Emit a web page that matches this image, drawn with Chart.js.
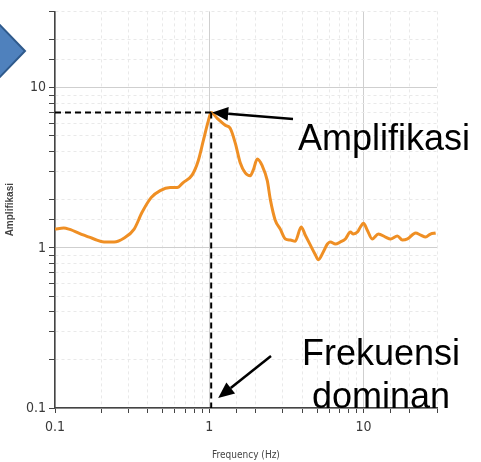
<!DOCTYPE html>
<html>
<head>
<meta charset="utf-8">
<script src="https://cdn.jsdelivr.net/npm/chart.js@4/dist/chart.umd.min.js"></script>
<style>
  html, body { margin: 0; padding: 0; background: #ffffff; }
  #c { display: block; }
</style>
</head>
<body>
<canvas id="c" width="481" height="462"></canvas>
<script>
// H/V spectral ratio curve: frequency (Hz) vs amplification
const frequency = [
  0.1, 0.114, 0.123, 0.154, 0.179, 0.208, 0.242, 0.281, 0.326, 0.367,
  0.42, 0.481, 0.558, 0.62, 0.678, 0.776, 0.848, 0.914, 0.985, 1.03,
  1.127, 1.27, 1.368, 1.476, 1.589, 1.713, 1.846, 1.932, 2.05, 2.21,
  2.38, 2.49, 2.68, 2.89, 3.12, 3.36, 3.61, 3.95, 4.2, 4.53,
  4.88, 5.1, 5.5, 5.84, 6.11, 6.58, 7.09, 7.64, 8.23, 8.61,
  9.14, 9.56, 10.0, 10.6, 11.4, 12.5, 13.9, 15.0, 16.6, 17.9,
  19.3, 21.8, 23.5, 25.3, 27.2, 29.4
];
const amplification = [
  1.31, 1.33, 1.31, 1.2, 1.137, 1.089, 1.089, 1.153, 1.31, 1.668,
  2.06, 2.28, 2.38, 2.38, 2.56, 2.86, 3.49, 4.64, 6.17, 7.0,
  6.44, 5.83, 5.58, 4.51, 3.4, 2.94, 2.82, 3.07, 3.59, 3.25,
  2.63, 2.01, 1.49, 1.31, 1.137, 1.12, 1.1, 1.35, 1.2, 1.04,
  0.905, 0.843, 0.945, 1.058, 1.089, 1.058, 1.089, 1.137, 1.255, 1.22,
  1.255, 1.35, 1.427, 1.29, 1.137, 1.22, 1.169, 1.137, 1.186, 1.12,
  1.137, 1.238, 1.203, 1.169, 1.22, 1.238
];
// dominant frequency and its amplification (peak of the curve)
const peakFrequency = 1.03;
const peakAmplification = 7.0;

const axisMin = 0.1;
const axisMax = 30;
const decadeLabels = ['0.1', '1', '10'];

const narrow = "'Liberation Sans Narrow', 'Arial Narrow', 'DejaVu Sans Condensed', 'Liberation Sans', sans-serif";
const isDecade = v => Math.abs(Math.log10(v) - Math.round(Math.log10(v))) < 1e-6;
const labelFor = v => {
  const s = String(+v.toPrecision(3));
  return isDecade(v) && decadeLabels.includes(s) ? s : '';
};

function logAxis(title, titleFont, titlePad, fitSize, isX) {
  return {
    type: 'logarithmic',
    min: axisMin,
    max: axisMax,
    afterFit(scale) {
      if (isX) scale.height = fitSize; else scale.width = fitSize;
    },
    ticks: {
      autoSkip: false,
      maxRotation: 0,
      padding: isX ? 6 : 3,
      color: '#3a3a3a',
      font: { family: narrow, size: 14 },
      callback(value) { return labelFor(value); }
    },
    grid: {
      color: ctx => (ctx.tick && isDecade(ctx.tick.value)) ? '#cfcfcf' : '#e9e9e9',
      lineWidth: 1,
      tickColor: '#444',
      tickLength: isX ? 5 : 6,
      drawTicks: true
    },
    border: {
      display: true,
      color: '#444',
      width: 1.5,
      dash: ctx => (ctx.tick && !isDecade(ctx.tick.value)) ? [3, 3] : []
    },
    title: {
      display: true,
      text: title,
      color: '#444',
      font: titleFont,
      padding: titlePad
    }
  };
}

// annotations: pointer shape, dashed guide lines, arrows and captions
const annotate = {
  id: 'annotate',
  afterDatasetsDraw(chart) {
    const { ctx, scales: { x, y }, chartArea } = chart;
    const px = x.getPixelForValue(peakFrequency);
    const py = y.getPixelForValue(peakAmplification);
    ctx.save();

    // blue pointer at the top-left
    ctx.beginPath();
    ctx.moveTo(-2, 23);
    ctx.lineTo(25, 51);
    ctx.lineTo(-2, 79);
    ctx.closePath();
    ctx.fillStyle = '#4f81bd';
    ctx.fill();
    ctx.lineWidth = 2;
    ctx.strokeStyle = '#2f5a8c';
    ctx.stroke();

    // dashed guides to the peak
    ctx.setLineDash([6, 4]);
    ctx.lineWidth = 2;
    ctx.strokeStyle = '#000';
    ctx.beginPath();
    ctx.moveTo(chartArea.left, py);
    ctx.lineTo(px, py);
    ctx.moveTo(px, py);
    ctx.lineTo(px, chartArea.bottom);
    ctx.stroke();
    ctx.setLineDash([]);

    function arrow(x0, y0, x1, y1) {
      const a = Math.atan2(y1 - y0, x1 - x0);
      const len = 16, half = 7;
      const bx = x1 - len * Math.cos(a), by = y1 - len * Math.sin(a);
      ctx.lineWidth = 2.5;
      ctx.beginPath();
      ctx.moveTo(x0, y0);
      ctx.lineTo(bx, by);
      ctx.stroke();
      ctx.beginPath();
      ctx.moveTo(x1, y1);
      ctx.lineTo(bx + half * Math.sin(a), by - half * Math.cos(a));
      ctx.lineTo(bx - half * Math.sin(a), by + half * Math.cos(a));
      ctx.closePath();
      ctx.fillStyle = '#000';
      ctx.fill();
    }
    arrow(293, 119, px + 1, py);
    arrow(271, 356, px + 7, chartArea.bottom - 10);

    ctx.fillStyle = '#000';
    ctx.font = "36px 'Liberation Sans', Arial, sans-serif";
    ctx.textAlign = 'center';
    ctx.textBaseline = 'alphabetic';
    ctx.fillText('Amplifikasi', 384, 150);
    ctx.fillText('Frekuensi', 381, 365);
    ctx.fillText('dominan', 381, 408);
    ctx.restore();
  }
};

new Chart(document.getElementById('c'), {
  type: 'line',
  data: {
    datasets: [{
      data: frequency.map((f, i) => ({ x: f, y: amplification[i] })),
      borderColor: '#ef8f24',
      borderWidth: 3,
      pointRadius: 0,
      fill: false,
      cubicInterpolationMode: 'monotone'
    }]
  },
  options: {
    responsive: false,
    animation: false,
    events: [],
    layout: { padding: { top: 5, right: 44, left: 0, bottom: 0 } },
    plugins: { legend: { display: false }, tooltip: { enabled: false } },
    scales: {
      x: logAxis('Frequency (Hz)', { family: narrow, size: 10 }, { top: 0, bottom: 1 }, 54, true),
      y: logAxis('Amplifikasi', { family: "'Liberation Sans', Arial, sans-serif", size: 10, weight: 'bold' }, { top: 4, bottom: 0 }, 55, false)
    }
  },
  plugins: [annotate]
});
</script>
</body>
</html>
